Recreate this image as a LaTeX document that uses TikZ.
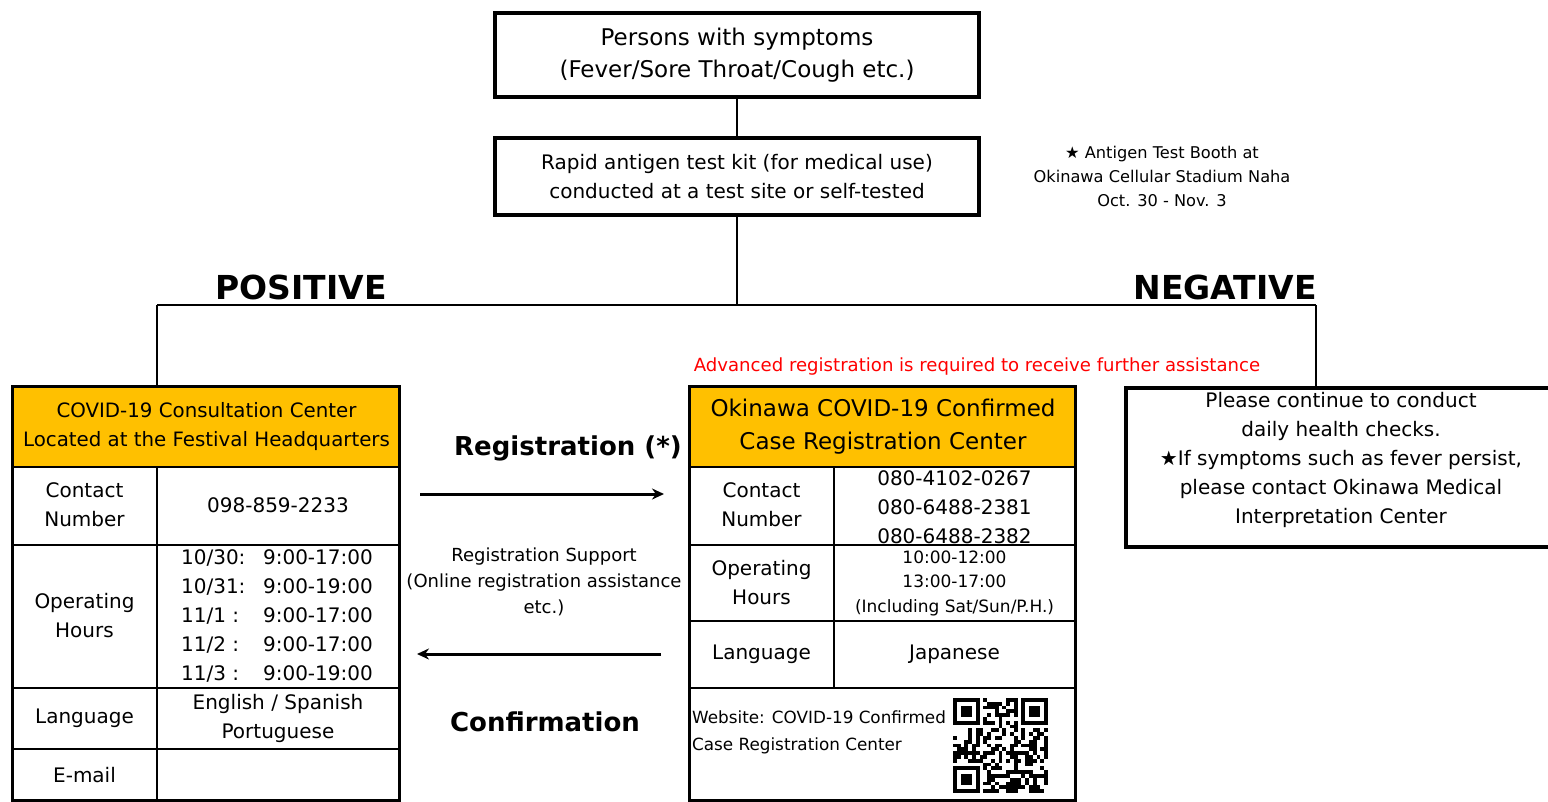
\documentclass[tikz,border=0pt]{standalone}
\usepackage{fontspec}
\setmainfont{DejaVu Sans}
\usetikzlibrary{arrows.meta}
\definecolor{hdrorange}{HTML}{FFC000}
\definecolor{notered}{HTML}{FF0000}
\newcommand{\fs}[2]{\fontsize{#1}{#2}\selectfont}
\newcommand{\slot}[2]{\makebox[82pt][l]{#1}#2}

\tikzset{
  flowbox/.style={draw, line width=3.5pt, minimum width=484pt, align=center, inner sep=0pt},
  link/.style={line width=2pt},
  tblframe/.style={line width=3pt},
  tblrule/.style={line width=2pt},
  tblhead/.style={draw, fill=hdrorange, line width=2pt, anchor=north west, align=center, inner sep=0pt},
  cell/.style={align=center, inner sep=0pt, font=\fs{20}{29}},
  branch/.style={font=\bfseries\fs{33}{40}, inner sep=0pt},
  flowarrow/.style={line width=3pt, -{Stealth[length=12pt,width=11pt]}},
}

\begin{document}
\begin{tikzpicture}[x=1pt,y=-1pt]
  \useasboundingbox (0,0) rectangle (1548,801);
  \clip (0,0) rectangle (1548,801);
  % Flow
  \node[flowbox, minimum height=84pt, font=\fs{23}{32}] (persons) at (737,55)
    {Persons with symptoms\\(Fever/Sore Throat/Cough etc.)};
  \node[flowbox, minimum height=77pt, font=\fs{20}{29}] (kit) at (737,176.5)
    {Rapid antigen test kit (for medical use)\\conducted at a test site or self-tested};
  \node[align=center, inner sep=0pt, font=\fs{16.2}{24}] (booth) at (1162,176)
    {★ Antigen Test Booth at\\Okinawa Cellular Stadium Naha\\Oct. 30 - Nov. 3};
  \coordinate (split) at (737,305);
  \coordinate (posknee) at (157,305);
  \coordinate (negknee) at (1316,305);
  \draw[link] (persons) -- (kit);
  \draw[link] (kit) -- (split);
  \draw[link] (posknee) -- (negknee);
  \node[branch] (pos) at (301,287) {POSITIVE};
  \node[branch] (neg) at (1225,287) {NEGATIVE};
  \node[text=notered, inner sep=0pt, font=\fs{18.1}{20}] (advnote) at (977,367)
    {Advanced registration is required to receive further assistance};

  % Consultation center table
  \node[tblhead, minimum width=387pt, minimum height=80pt, font=\fs{19.8}{29}] (consult) at (12,386)
    {COVID-19 Consultation Center\\Located at the Festival Headquarters};
  \draw[tblrule] (157,466) -- (157,800);
  \draw[tblrule] (12,545) -- (399,545);
  \draw[tblrule] (12,688) -- (399,688);
  \draw[tblrule] (12,749) -- (399,749);
  \draw[tblframe] (12,386) rectangle (399,800);
  \node[cell] (lcontact) at (84.5,505) {Contact\\Number};
  \node[cell] (lphone) at (278,505) {098-859-2233};
  \node[cell] (lhours) at (84.5,616) {Operating\\Hours};
  \node[cell, align=left] (ltimes) at (277,616)
    {\slot{10/30:}{9:00-17:00}\\\slot{10/31:}{9:00-19:00}\\\slot{11/1 :}{9:00-17:00}\\
     \slot{11/2 :}{9:00-17:00}\\\slot{11/3 :}{9:00-19:00}};
  \node[cell] (llang) at (84.5,718) {Language};
  \node[cell] (llangs) at (278,718) {English / Spanish\\Portuguese};
  \node[cell] (lmail) at (84.5,775) {E-mail};
  \draw[link] (posknee) -- (posknee |- consult.north);

  % Registration center table
  \node[tblhead, minimum width=386pt, minimum height=80pt, font=\fs{23}{33}] (regcenter) at (689,386)
    {Okinawa COVID-19 Confirmed\\Case Registration Center};
  \draw[tblrule] (834,466) -- (834,688);
  \draw[tblrule] (689,545) -- (1075,545);
  \draw[tblrule] (689,621) -- (1075,621);
  \draw[tblrule] (689,688) -- (1075,688);
  \draw[tblframe] (689,386) rectangle (1075,800);
  \node[cell] (rcontact) at (761.5,505) {Contact\\Number};
  \node[cell] (rphones) at (954.5,507) {080-4102-0267\\080-6488-2381\\080-6488-2382};
  \node[cell] (rhours) at (761.5,583) {Operating\\Hours};
  \node[cell, font=\fs{17}{24.5}] (rtimes) at (954.5,583)
    {10:00-12:00\\13:00-17:00\\(Including Sat/Sun/P.H.)};
  \node[cell] (rlang) at (761.5,654) {Language};
  \node[cell] (rlangs) at (954.5,654) {Japanese};
  \node[cell, align=left, anchor=west, font=\fs{16.8}{27}] (rweb) at (692,732)
    {Website: COVID-19 Confirmed\\Case Registration Center};
  % QR code
  \begin{scope}[shift={(953,698)}, x=3.8pt, y=-3.8pt]
    \pgfmathsetseed{7}
    \foreach \i in {0,...,24}{
      \foreach \j in {0,...,24}{
        \pgfmathtruncatemacro{\skipit}{((\i<8)&&(\j<8))||((\i>16)&&(\j<8))||((\i<8)&&(\j>16))}
        \pgfmathtruncatemacro{\qrbit}{rnd<0.5}
        \ifnum\skipit=0 \ifnum\qrbit=1 \fill (\i,\j) rectangle +(1,1); \fi\fi
      }}
    \foreach \fx/\fy in {0/0,18/0,0/18}{
      \fill (\fx,\fy) rectangle +(7,7);
      \fill[white] (\fx+1,\fy+1) rectangle +(5,5);
      \fill (\fx+2,\fy+2) rectangle +(3,3);
    }
  \end{scope}

  % Negative advice
  \node[draw, line width=3.5pt, minimum width=434pt, minimum height=159pt, anchor=north west,
    inner sep=0pt] (advice) at (1124,386) {};
  \node[align=center, inner sep=0pt, font=\fs{20}{29}] (advicetext) at (1341,460)
    {Please continue to conduct\\daily health checks.\\★If symptoms such as fever persist,\\
     please contact Okinawa Medical\\Interpretation Center};
  \draw[link] (negknee) -- (negknee |- advice.north);

  % Registration flow
  \node[inner sep=0pt, font=\bfseries\fs{26}{30}] (regword) at (568,448) {Registration (*)};
  \node[align=center, inner sep=0pt, font=\fs{18}{26}] (support) at (544,582)
    {Registration Support\\(Online registration assistance\\etc.)};
  \node[inner sep=0pt, font=\bfseries\fs{26}{30}] (confword) at (545,722) {Confirmation};
  \coordinate (regfrom) at (420,494);
  \coordinate (regto) at (664,494);
  \coordinate (confrom) at (661,654);
  \coordinate (conto) at (417,654);
  \draw[flowarrow] (regfrom) -- (regto);
  \draw[flowarrow] (confrom) -- (conto);
\end{tikzpicture}
\end{document}
